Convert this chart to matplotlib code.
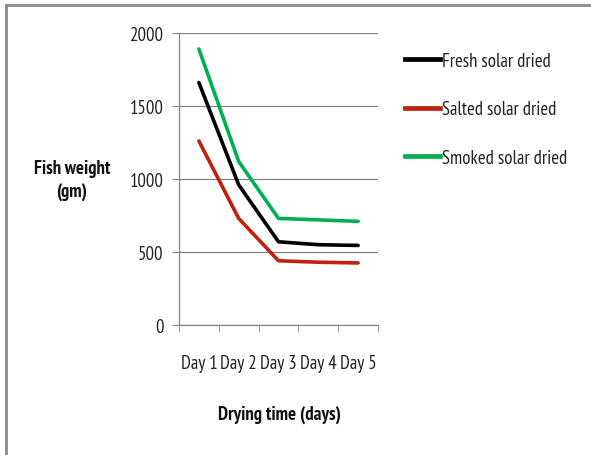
import matplotlib
matplotlib.use("Agg")
import matplotlib.pyplot as plt
from matplotlib import font_manager
from matplotlib.lines import Line2D

installed = {f.name for f in font_manager.fontManager.ttflist}
family = next((f for f in ["PT Sans Narrow", "Fira Sans Condensed", "IBM Plex Sans Condensed",
                           "Open Sans"] if f in installed), "DejaVu Sans")
plt.rcParams["font.family"] = [family, "DejaVu Sans"]

days = ["Day 1", "Day 2", "Day 3", "Day 4", "Day 5"]
fresh = [1660, 960, 570, 550, 545]
salted = [1260, 730, 440, 430, 425]
smoked = [1890, 1120, 730, 720, 710]
series_names = ["Fresh solar dried", "Salted solar dried", "Smoked solar dried"]
colors = ["#000000", "#C0200C", "#00B050"]
y_ticks = [0, 500, 1000, 1500, 2000]

FS = 13.5

fig = plt.figure(figsize=(5.91, 4.56), dpi=100)
ax = fig.add_axes([179 / 591, 1 - 326 / 456, 199 / 591, 292 / 456])

x = list(range(len(days)))
for vals, c in zip([fresh, salted, smoked], colors):
    ax.plot(x, vals, color=c, lw=2.6, solid_joinstyle="round", solid_capstyle="round")

ax.set_xlim(-0.5, len(days) - 0.5)
ax.set_ylim(0, 2000)
ax.set_yticks(y_ticks)
ax.set_yticklabels([str(v) for v in y_ticks], fontsize=FS, color="#222222")
ax.set_xticks(x)
ax.set_xticklabels(days, fontsize=FS, color="#222222")
ax.set_xticks([i - 0.5 for i in range(len(days) + 1)], minor=True)
ax.tick_params(axis="x", which="major", length=0, pad=21)
ax.tick_params(axis="x", which="minor", length=5, color="#868686", direction="out")
ax.tick_params(axis="y", length=5, color="#868686", pad=6)
ax.grid(axis="y", color="#868686", lw=0.9)
ax.set_axisbelow(True)
for s in ["top", "right"]:
    ax.spines[s].set_visible(False)
for s in ["left", "bottom"]:
    ax.spines[s].set_color("#868686")
    ax.spines[s].set_linewidth(0.9)

fig.text(72 / 591, 1 - 181 / 456, "Fish weight\n(gm)", ha="center", va="center",
         fontsize=FS, fontweight="bold", linespacing=1.45, color="#111111")
fig.text(279 / 591, 1 - 415 / 456, "Drying time (days)", ha="center", va="center",
         fontsize=FS, fontweight="bold", color="#111111")

handles = [Line2D([], [], color=c, lw=3.4) for c in colors]
fig.legend(handles, series_names, loc="upper left", bbox_to_anchor=(405 / 591, 1 - 53 / 456),
           frameon=False, fontsize=FS, handlelength=1.85, handletextpad=0.15,
           labelspacing=1.62, labelcolor="#222222", borderpad=0, borderaxespad=0)

# outer frame
fig.add_artist(Line2D([6 / 591, 1], [1 - 6 / 456, 1 - 6 / 456], transform=fig.transFigure,
                      color="#8a8a8a", lw=2))
fig.add_artist(Line2D([6 / 591, 6 / 591], [0, 1 - 6 / 456], transform=fig.transFigure,
                      color="#8a8a8a", lw=2))

fig.savefig("out.png", dpi=100)
